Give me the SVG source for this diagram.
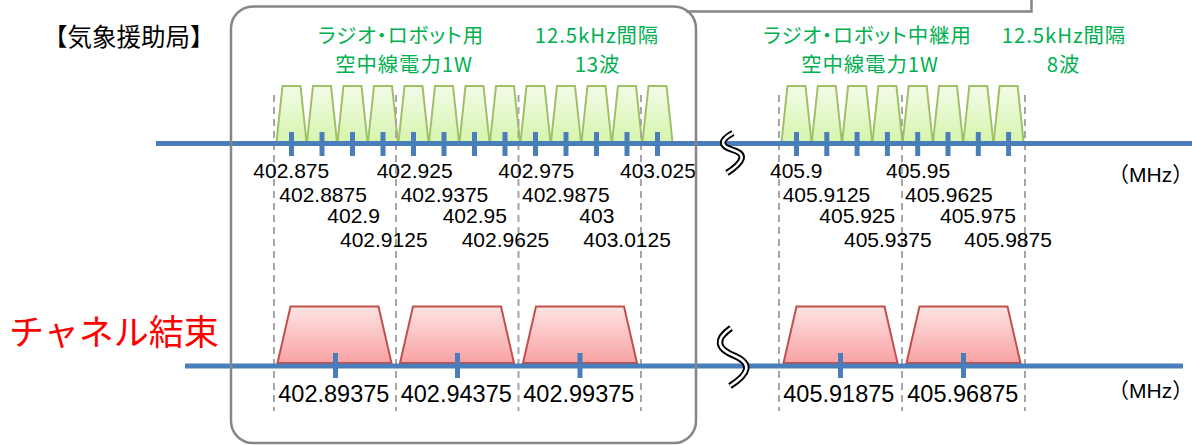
<svg xmlns="http://www.w3.org/2000/svg" width="1192" height="445" viewBox="0 0 1192 445">
<defs>
<linearGradient id="gg" x1="0" y1="0" x2="0" y2="1">
<stop offset="0" stop-color="#f3fbe8"/>
<stop offset="1" stop-color="#d6f5ad"/>
</linearGradient>
<linearGradient id="rg" x1="0" y1="0" x2="0" y2="1">
<stop offset="0" stop-color="#fde3e3"/>
<stop offset="1" stop-color="#f9a3a3"/>
</linearGradient>
<polygon id="gt" points="-15,142 -9,86 9,86 15,142" fill="url(#gg)" stroke="#a0c065" stroke-width="2" stroke-linejoin="miter"/>
<polygon id="rt" points="-57,363 -44,306.5 44,306.5 57,363" fill="url(#rg)" stroke="#c0504d" stroke-width="2"/>
<rect id="tk" x="-2.5" y="132" width="5" height="24" fill="#4a7ebb"/>
<rect id="tk2" x="-2.5" y="353" width="5" height="25" fill="#4a7ebb"/>
</defs>
<style>
.num{font-family:"Liberation Sans","Noto Sans CJK JP",sans-serif;font-size:21px;fill:#000}
.bnum{font-family:"Liberation Sans","Noto Sans CJK JP",sans-serif;font-size:23.5px;fill:#000}
.grn{font-family:"Noto Sans CJK JP",sans-serif;font-size:20.4px;fill:#00b050;font-feature-settings:"palt";text-anchor:middle;letter-spacing:0.9px}
.dash{stroke:#a6a6a6;stroke-width:2;stroke-dasharray:7,5;fill:none}
.axis{stroke:#4a7ebb;stroke-width:5;fill:none}
.brkb{stroke:#000;stroke-width:6.5;fill:none}
.brkw{stroke:#fff;stroke-width:2.6;fill:none}
</style>
<rect width="1192" height="445" fill="#fff"/>

<g id="green-carriers">
<use href="#gt" x="291.5"/><use href="#gt" x="322"/><use href="#gt" x="352.5"/><use href="#gt" x="383"/>
<use href="#gt" x="413.5"/><use href="#gt" x="444"/><use href="#gt" x="474.5"/><use href="#gt" x="505"/>
<use href="#gt" x="535.5"/><use href="#gt" x="566"/><use href="#gt" x="596.5"/><use href="#gt" x="627"/><use href="#gt" x="657.5"/>
<use href="#gt" x="796.5"/><use href="#gt" x="826.8"/><use href="#gt" x="857.1"/><use href="#gt" x="887.4"/>
<use href="#gt" x="917.7"/><use href="#gt" x="948"/><use href="#gt" x="978.3"/><use href="#gt" x="1008.6"/>
</g>

<g id="red-carriers">
<use href="#rt" x="334.5"/><use href="#rt" x="457"/><use href="#rt" x="580"/><use href="#rt" x="840.5"/><use href="#rt" x="963.5"/>
</g>

<g id="connectors">
<g id="dashed-guides">
<line class="dash" x1="274" y1="95" x2="274" y2="411"/>
<line class="dash" x1="396" y1="95" x2="396" y2="411"/>
<line class="dash" x1="518.5" y1="95" x2="518.5" y2="411"/>
<line class="dash" x1="641" y1="95" x2="641" y2="411"/>
<line class="dash" x1="779" y1="95" x2="779" y2="411"/>
<line class="dash" x1="902" y1="95" x2="902" y2="411"/>
<line class="dash" x1="1025" y1="95" x2="1025" y2="411"/>
</g>
<line class="axis" x1="156" y1="143.5" x2="1192" y2="143.5"/>
<line class="axis" x1="185" y1="366" x2="1183" y2="366"/>
<g id="ticks-top">
<use href="#tk" x="291.5"/><use href="#tk" x="322"/><use href="#tk" x="352.5"/><use href="#tk" x="383"/>
<use href="#tk" x="413.5"/><use href="#tk" x="444"/><use href="#tk" x="474.5"/><use href="#tk" x="505"/>
<use href="#tk" x="535.5"/><use href="#tk" x="566"/><use href="#tk" x="596.5"/><use href="#tk" x="627"/><use href="#tk" x="657.5"/>
<use href="#tk" x="796.5"/><use href="#tk" x="826.8"/><use href="#tk" x="857.1"/><use href="#tk" x="887.4"/>
<use href="#tk" x="917.7"/><use href="#tk" x="948"/><use href="#tk" x="978.3"/><use href="#tk" x="1008.6"/>
</g>
<g id="ticks-bottom">
<use href="#tk2" x="335.5"/><use href="#tk2" x="457.5"/><use href="#tk2" x="580"/><use href="#tk2" x="840.5"/><use href="#tk2" x="963.5"/>
</g>
<g id="breaks">
<path class="brkb" d="M733,133 Q713,144 733,150 Q753,156 727,173"/>
<path class="brkw" d="M733,133 Q713,144 733,150 Q753,156 727,173"/>
<path class="brkb" d="M731,328 Q707,345 735,356 Q760,367 730,386"/>
<path class="brkw" d="M731,328 Q707,345 735,356 Q760,367 730,386"/>
</g>
</g>

<g id="labels-top">
<text class="num" x="253.3" y="178.3">402.875</text>
<text class="num" x="376.7" y="178.3">402.925</text>
<text class="num" x="498.3" y="178.3">402.975</text>
<text class="num" x="620" y="178.3">403.025</text>
<text class="num" x="770" y="178.3">405.9</text>
<text class="num" x="886" y="178.3">405.95</text>
<text class="num" x="279.3" y="201.7">402.8875</text>
<text class="num" x="400.7" y="201.7">402.9375</text>
<text class="num" x="522" y="201.7">402.9875</text>
<text class="num" x="782.7" y="201.7">405.9125</text>
<text class="num" x="905" y="201.7">405.9625</text>
<text class="num" x="327.3" y="223.3">402.9</text>
<text class="num" x="442.7" y="223.3">402.95</text>
<text class="num" x="579.3" y="223.3">403</text>
<text class="num" x="819.3" y="223.3">405.925</text>
<text class="num" x="940" y="223.3">405.975</text>
<text class="num" x="340" y="246.7">402.9125</text>
<text class="num" x="461.7" y="246.7">402.9625</text>
<text class="num" x="583.3" y="246.7">403.0125</text>
<text class="num" x="844" y="246.7">405.9375</text>
<text class="num" x="964.3" y="246.7">405.9875</text>
<text class="num" x="1108" y="181.7">（MHz）</text>
</g>

<g id="labels-bottom">
<text class="bnum" x="278.3" y="401.7">402.89375</text>
<text class="bnum" x="400.7" y="401.7">402.94375</text>
<text class="bnum" x="523.3" y="401.7">402.99375</text>
<text class="bnum" x="783.3" y="401.7">405.91875</text>
<text class="bnum" x="907.3" y="401.7">405.96875</text>
<text class="num" x="1108" y="398.3">（MHz）</text>
</g>

<g id="title-weather">
<text x="43" y="46" font-family="'Noto Sans CJK JP',sans-serif" font-size="24.5" fill="#000">【気象援助局】</text>
</g>
<g id="title-bonding">
<text x="9" y="345" font-family="'Noto Sans CJK JP',sans-serif" font-size="35" fill="#ff0000">チャネル結束</text>
</g>

<g id="green-labels">
<text class="grn"><tspan x="401" y="42.5">ラジオ・ロボット用</tspan><tspan x="404" y="72">空中線電力1W</tspan></text>
<text class="grn"><tspan x="597" y="42.5">12.5kHz間隔</tspan><tspan x="597.5" y="72">13波</tspan></text>
<text class="grn"><tspan x="867.5" y="42.5">ラジオ・ロボット中継用</tspan><tspan x="870" y="72">空中線電力1W</tspan></text>
<text class="grn"><tspan x="1064" y="42.5">12.5kHz間隔</tspan><tspan x="1063.5" y="72">8波</tspan></text>
</g>

<g id="frame">
<rect x="231" y="6.5" width="465" height="436.5" rx="22" ry="22" fill="none" stroke="#868686" stroke-width="2.5"/>
<polyline points="686,11.5 1031.5,11.5 1031.5,0" fill="none" stroke="#868686" stroke-width="2.5"/>
</g>
</svg>
